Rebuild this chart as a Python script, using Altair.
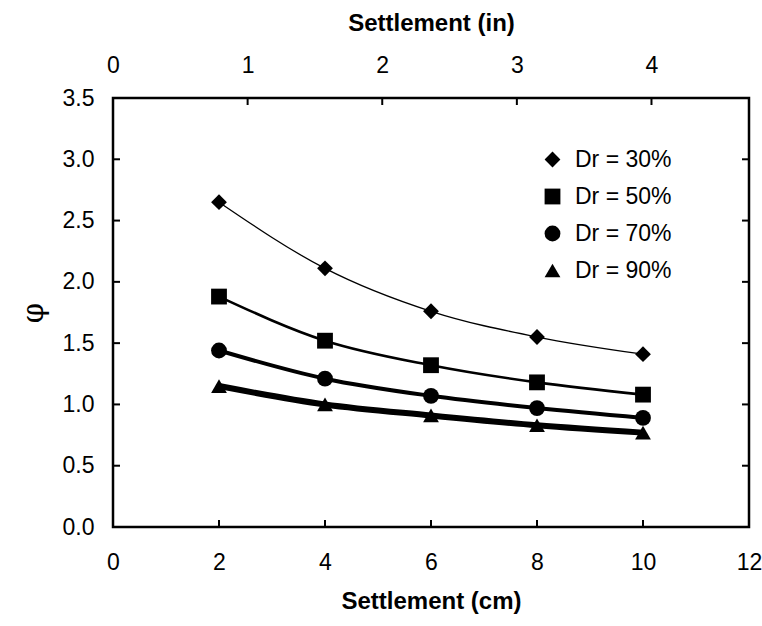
import altair as alt
import pandas as pd

settlement_cm = [2, 4, 6, 8, 10]
series_names = ["Dr = 30%", "Dr = 50%", "Dr = 70%", "Dr = 90%"]
phi_30 = [2.65, 2.11, 1.76, 1.55, 1.41]
phi_50 = [1.88, 1.52, 1.32, 1.18, 1.08]
phi_70 = [1.44, 1.21, 1.07, 0.97, 0.89]
phi_90 = [1.15, 1.00, 0.91, 0.83, 0.77]

cm_ticks = [2, 4, 6, 8, 10]
in_ticks = [1, 2, 3, 4]
y_ticks = [0.5, 1.0, 1.5, 2.0, 2.5, 3.0]

rows = []
for name, vals in zip(series_names, [phi_30, phi_50, phi_70, phi_90]):
    for x, y in zip(settlement_cm, vals):
        rows.append({"x": x, "phi": y, "series": name})
df = pd.DataFrame(rows)

W, H = 636, 429
FONT = "Liberation Sans"

xcm = alt.X("x:Q", scale=alt.Scale(domain=[0, 12], nice=False),
            axis=alt.Axis(orient="bottom", values=[0, 2, 4, 6, 8, 10, 12], title="Settlement (cm)",
                          tickSize=0, labelPadding=24, titlePadding=15, grid=False, domain=False,
                          labelFlush=False))
yphi = alt.Y("phi:Q", scale=alt.Scale(domain=[0, 3.5], nice=False),
             axis=alt.Axis(values=[0, 0.5, 1.0, 1.5, 2.0, 2.5, 3.0, 3.5], format=".1f", title="φ",
                           tickSize=0, labelPadding=19, titlePadding=14, grid=False, domain=False,
                           titleFontSize=29, titleFontWeight="normal", titleFont="DejaVu Serif"))

widths = [1.3, 2.6, 4.0, 6.0]
line_layers = []
for name, w in zip(series_names, widths):
    line_layers.append(
        alt.Chart(df).transform_filter(alt.datum.series == name)
        .mark_line(interpolate="monotone", color="black", strokeWidth=w)
        .encode(x=xcm, y=yphi)
    )

shape_scale = alt.Scale(domain=series_names, range=["diamond", "square", "circle", "triangle-up"])

points = alt.Chart(df).mark_point(filled=True, color="black", opacity=1, size=250).encode(
    x="x:Q", y="phi:Q",
    shape=alt.Shape("series:N", scale=shape_scale,
                    legend=alt.Legend(title=None, orient="none", legendX=428, legendY=50,
                                      labelFontSize=23, labelFont=FONT, labelColor="black",
                                      symbolSize=250, symbolFillColor="black", symbolStrokeColor="black",
                                      symbolOpacity=1, rowPadding=13, labelOffset=11)),
)

bt = pd.DataFrame({"x": cm_ticks})
bottom_ticks = alt.Chart(bt).mark_rule(color="black", strokeWidth=2).encode(
    x="x:Q", y=alt.value(H), y2=alt.value(H - 7))

yt = pd.DataFrame({"phi": y_ticks})
left_ticks = alt.Chart(yt).mark_rule(color="black", strokeWidth=2).encode(
    y="phi:Q", x=alt.value(0), x2=alt.value(7))
right_ticks = alt.Chart(yt).mark_rule(color="black", strokeWidth=2).encode(
    y="phi:Q", x=alt.value(W), x2=alt.value(W - 7))

it = pd.DataFrame({"inch": in_ticks})
top_ticks = alt.Chart(it).mark_rule(color="black", strokeWidth=2).encode(
    x=alt.X("inch:Q", scale=alt.Scale(domain=[0, 12 / 2.54], nice=False, zero=True),
            axis=alt.Axis(orient="top", values=[0, 1, 2, 3, 4], title="Settlement (in)",
                          tickSize=0, labelPadding=21, titlePadding=19, grid=False, domain=False,
                          labelFlush=False)),
    y=alt.value(0), y2=alt.value(7))

main = alt.layer(*line_layers, points, bottom_ticks, left_ticks, right_ticks)

chart = alt.layer(main, top_ticks).resolve_scale(
    x="independent"
).properties(
    width=W, height=H,
    background="white",
    autosize=alt.AutoSizeParams(type="none"),
    padding={"left": 113, "top": 98, "right": 13, "bottom": 99},
).configure_view(
    stroke="black", strokeWidth=2.5
).configure_axis(
    labelFont=FONT, labelFontSize=23, labelColor="black",
    titleFont=FONT, titleFontSize=24, titleFontWeight="bold", titleColor="black",
)

chart.save("out.html", embed_options={"renderer": "svg", "actions": False})
